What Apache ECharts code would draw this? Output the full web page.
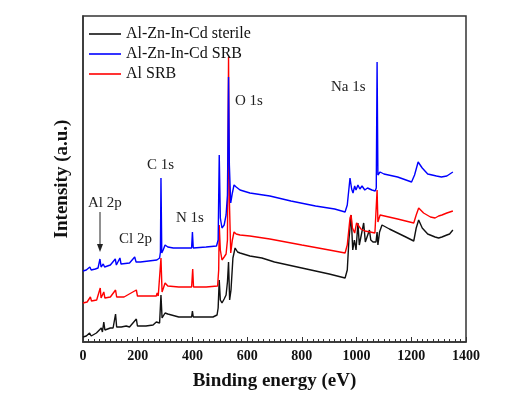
<!DOCTYPE html>
<html>
<head>
<meta charset="utf-8">
<script src="https://cdn.jsdelivr.net/npm/echarts@6/dist/echarts.min.js"></script>
<style>
  html, body { margin: 0; padding: 0; background: #fff; }
</style>
</head>
<body>
<div id="main" style="width: 524px; height: 396px"></div>
<script>
// binding energy (eV) and intensity (a.u.)
var sterileEnergy = [0, 12, 24, 30, 49, 55, 67, 71, 76, 80, 85, 100, 110, 119, 123, 140, 158, 170, 195, 199, 230, 256, 268, 272, 280, 285, 289, 300, 310, 350, 397, 400, 403, 450, 475, 490, 494, 498, 502, 508, 516, 523, 528, 532, 536, 541, 548, 556, 565, 574, 610, 654, 700, 800, 900, 958, 966, 972, 980, 986, 992, 998, 1005, 1010, 1016, 1026, 1032, 1038, 1047, 1052, 1060, 1071, 1075, 1078, 1084, 1093, 1120, 1150, 1180, 1209, 1218, 1227, 1240, 1260, 1287, 1300, 1312, 1330, 1340, 1352]
var sterileInt = [5, 6, 9, 6, 9, 7, 14, 10, 20, 12, 12, 14, 14, 28, 15, 15, 16, 15, 23, 16, 16, 17, 20, 18, 19, 47, 24, 29, 28, 25, 25, 31, 25, 25, 25, 27, 34, 62, 42, 39, 43, 47, 60, 80, 42, 52, 84, 94, 90, 89, 86, 84, 80, 74, 68, 64, 72, 102, 127, 92, 102, 92, 119, 97, 97, 119, 100, 100, 112, 102, 100, 100, 110, 97, 110, 117, 113, 109, 105, 101, 114, 122, 114, 108, 105, 104, 105, 107, 108, 112]

var srbEnergy = [0, 12, 25, 30, 45, 55, 62, 66, 74, 79, 100, 118, 122, 135, 139, 170, 189, 194, 210, 240, 270, 280, 283, 285, 288, 293, 300, 310, 330, 370, 397, 400, 403, 450, 488, 494, 498, 502, 508, 516, 523, 528, 532, 535, 540, 546, 552, 560, 574, 610, 683, 760, 850, 920, 958, 966, 976, 982, 987, 993, 998, 1005, 1012, 1020, 1030, 1040, 1056, 1068, 1072, 1075, 1078, 1086, 1100, 1150, 1201, 1212, 1225, 1240, 1260, 1292, 1310, 1330, 1352]
var srbInt = [71, 72, 75, 72, 73, 74, 83, 75, 78, 75, 77, 83, 77, 84, 78, 79, 85, 80, 80, 81, 82, 84, 90, 164, 89, 92, 97, 95, 94, 94, 94, 110, 94, 95, 96, 102, 187, 124, 114, 117, 127, 147, 265, 177, 139, 149, 157, 155, 152, 149, 146, 141, 136, 133, 130, 137, 164, 153, 149, 156, 152, 157, 153, 156, 152, 154, 152, 151, 154, 280, 167, 170, 168, 165, 160, 167, 180, 174, 168, 166, 165, 166, 170]

var alEnergy = [0, 15, 27, 31, 50, 63, 66, 76, 80, 100, 119, 123, 150, 195, 199, 240, 268, 271, 275, 282, 285, 289, 294, 300, 310, 350, 397, 401, 404, 450, 492, 496, 498, 502, 508, 516, 523, 528, 532, 535, 540, 546, 552, 560, 574, 610, 683, 800, 900, 958, 966, 976, 980, 985, 993, 1000, 1008, 1016, 1030, 1050, 1067, 1073, 1075, 1078, 1086, 1093, 1150, 1209, 1218, 1227, 1245, 1270, 1287, 1300, 1312, 1330, 1352]
var alInt = [39, 40, 45, 41, 42, 54, 44, 50, 44, 45, 52, 45, 45, 52, 46, 46, 46, 49, 46, 48, 84, 50, 54, 59, 56, 55, 55, 73, 55, 55, 56, 72, 117, 92, 82, 85, 88, 102, 285, 142, 89, 102, 110, 108, 107, 106, 103, 97, 92, 89, 97, 124, 127, 114, 109, 119, 116, 113, 111, 110, 109, 108, 152, 120, 127, 128, 123, 119, 127, 134, 129, 125, 124, 126, 127, 129, 131]

var xTicks = [0, 200, 400, 600, 800, 1000, 1200, 1400]

function pairs (xs, ys) {
  var out = []
  for (var i = 0; i < xs.length; i++) {
    out.push([xs[i], ys[i]])
  }
  return out
}

var serif = '"Liberation Serif", "Times New Roman", serif'

var chart = echarts.init(document.getElementById('main'))

var option = {
  animation: false,
  grid: {
    left: 83,
    right: 58,
    top: 16,
    bottom: 54,
    show: true,
    borderColor: '#333',
    borderWidth: 1.5
  },
  legend: {
    orient: 'vertical',
    left: 84,
    top: 21,
    icon: 'rect',
    itemWidth: 32,
    itemHeight: 1.6,
    itemGap: 4,
    data: ['Al-Zn-In-Cd sterile', 'Al-Zn-In-Cd SRB', 'Al SRB'],
    textStyle: {
      fontFamily: serif,
      fontSize: 16,
      color: '#111'
    }
  },
  xAxis: {
    type: 'value',
    min: xTicks[0],
    max: xTicks[xTicks.length - 1],
    interval: 200,
    name: 'Binding energy (eV)',
    nameLocation: 'middle',
    nameGap: 30,
    nameTextStyle: {
      fontFamily: serif,
      fontSize: 19,
      fontWeight: 'bold',
      color: '#111'
    },
    axisLine: { lineStyle: { color: '#333', width: 1.5 } },
    axisTick: { inside: true, length: 5, lineStyle: { color: '#333' } },
    minorTick: { show: true, splitNumber: 10, length: 3, lineStyle: { color: '#333' } },
    splitLine: { show: false },
    axisLabel: {
      fontFamily: serif,
      fontSize: 14,
      fontWeight: 'bold',
      color: '#111',
      margin: 7,
      formatter: function (v) { return String(v) }
    }
  },
  yAxis: {
    type: 'value',
    min: 0,
    max: 326,
    name: 'Intensity (a.u.)',
    nameLocation: 'middle',
    nameGap: 11,
    nameTextStyle: {
      fontFamily: serif,
      fontSize: 19,
      fontWeight: 'bold',
      color: '#111'
    },
    axisLine: { show: true, lineStyle: { color: '#333', width: 1.5 } },
    axisTick: { show: false },
    axisLabel: { show: false },
    splitLine: { show: false }
  },
  series: [
    {
      name: 'Al-Zn-In-Cd sterile',
      type: 'line',
      symbol: 'none',
      color: '#111',
      lineStyle: { width: 1.4 },
      data: pairs(sterileEnergy, sterileInt)
    },
    {
      name: 'Al SRB',
      type: 'line',
      symbol: 'none',
      color: '#ff0000',
      lineStyle: { width: 1.4 },
      data: pairs(alEnergy, alInt)
    },
    {
      name: 'Al-Zn-In-Cd SRB',
      type: 'line',
      symbol: 'none',
      color: '#0000ff',
      lineStyle: { width: 1.4 },
      data: pairs(srbEnergy, srbInt)
    }
  ],
  graphic: [
    { type: 'text', left: 88, top: 196, style: { text: 'Al 2p', font: '15px ' + serif, fill: '#222' } },
    { type: 'line', shape: { x1: 100, y1: 212, x2: 100, y2: 246 }, style: { stroke: '#222', lineWidth: 1 } },
    { type: 'polygon', shape: { points: [[97, 244], [103, 244], [100, 252]] }, style: { fill: '#222' } },
    { type: 'text', left: 119, top: 232, style: { text: 'Cl 2p', font: '15px ' + serif, fill: '#222' } },
    { type: 'text', left: 147, top: 158, style: { text: 'C 1s', font: '15px ' + serif, fill: '#222' } },
    { type: 'text', left: 176, top: 211, style: { text: 'N 1s', font: '15px ' + serif, fill: '#222' } },
    { type: 'text', left: 235, top: 94, style: { text: 'O 1s', font: '15px ' + serif, fill: '#222' } },
    { type: 'text', left: 331, top: 80, style: { text: 'Na 1s', font: '15px ' + serif, fill: '#222' } }
  ]
}

chart.setOption(option)
</script>
</body>
</html>
